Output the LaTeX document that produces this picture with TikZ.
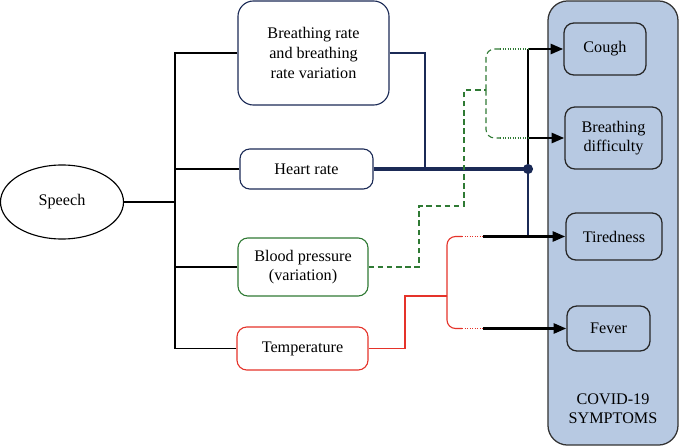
\documentclass[tikz,border=0pt]{standalone}
\usepackage{fontspec}
\setmainfont{Liberation Serif}
\usetikzlibrary{arrows.meta,shapes.geometric}
\definecolor{navyline}{HTML}{1B2A56}
\definecolor{greenline}{HTML}{2F7A34}
\definecolor{redline}{HTML}{E5332A}
\definecolor{symfill}{HTML}{B7C9E2}
\begin{document}
\begin{tikzpicture}[x=0.025cm, y=-0.025cm,
        txt/.style={font=\fontsize{11.5}{14}\selectfont, align=center},
        param/.style={txt, draw, rounded corners=7pt, line width=0.8pt, inner sep=0pt},
        symbox/.style={txt, draw=black!85, rounded corners=7pt, line width=0.9pt, inner sep=0pt},
        conn/.style={line width=0.8pt},
        sarrow/.style={line width=2pt, -{Triangle[length=9pt,width=7pt]}},
        gdash/.style={conn, greenline, dash pattern=on 4pt off 2.5pt},
        gdot/.style={conn, greenline, densely dotted},
        rsolid/.style={conn, redline},
        rdot/.style={conn, redline, densely dotted}
    ]
    \useasboundingbox (0,0) rectangle (680,447);

    % Ingresso
    \node[txt, ellipse, draw, line width=0.8pt, minimum width=3.075cm, minimum height=1.85cm] (speech) at (62,202) {Speech};

    % Parametri vitali
    \node[param, draw=navyline, rounded corners=11pt, minimum width=3.775cm, minimum height=2.6cm] (breath) at (313.5,53) {Breathing rate\\and breathing\\rate variation};
    \node[param, draw=navyline, minimum width=3.325cm, minimum height=1cm] (heart) at (306.5,169) {Heart rate};
    \node[param, draw=greenline, minimum width=3.25cm, minimum height=1.45cm] (blood) at (303,267) {Blood pressure\\(variation)};
    \node[param, draw=redline, minimum width=3.275cm, minimum height=1.075cm] (temp) at (302.5,348.5) {Temperature};

    % Riquadro sintomi
    \node[txt, draw=black!80, fill=symfill, rounded corners=14pt, line width=0.9pt, minimum width=3.25cm, minimum height=11.1cm] (covid) at (613,223) {};
    \node[txt, font=\fontsize{11.5}{13.5}\selectfont] (covidlbl) at (613,409) {COVID-19\\SYMPTOMS};
    \node[symbox, minimum width=2.05cm, minimum height=1.3cm] (cough) at (605,49) {Cough};
    \node[symbox, minimum width=2.425cm, minimum height=1.55cm] (diff) at (613.5,138) {Breathing\\difficulty};
    \node[symbox, minimum width=2.4cm, minimum height=1.175cm] (tired) at (614,236.5) {Tiredness};
    \node[symbox, minimum width=2.075cm, minimum height=1.125cm] (fever) at (608.5,328.5) {Fever};

    % Albero da Speech
    \coordinate (trunk) at (175,202);
    \draw[conn] (speech.east) -- (trunk);
    \draw[conn] (breath.west) -| (trunk |- temp.west) -- (temp.west);
    \draw[conn] (heart.west) -- (heart.west -| trunk);
    \draw[conn] (blood.west) -- (blood.west -| trunk);

    % Heart rate e breathing rate
    \coordinate (hub) at (528,169);
    \coordinate (bjoin) at (425,169);
    \draw[conn, navyline] (breath.east) -| (bjoin);
    \draw[conn] (hub) -- (hub |- cough.west);
    \draw[conn, navyline] (hub) -- (hub |- tired.west);
    \draw[navyline, line width=2.4pt] (heart.east) -- (hub);
    \fill[navyline] (hub) circle[radius=3.6pt];
    \draw[sarrow] (hub |- cough.west) -- (cough.west);
    \draw[sarrow] (hub |- diff.west) -- (diff.west);

    % Blood pressure
    \coordinate (g1) at (419,206);
    \coordinate (g2) at (464,90);
    \coordinate (gsplit) at (486,90);
    \coordinate (gc) at (500,49);
    \coordinate (gd) at (500,138);
    \draw[gdash] (blood.east) -| (g1) -| (g2) -- (gsplit);
    \draw[gdash, rounded corners=6pt] (gsplit) |- (gc);
    \draw[gdash, rounded corners=6pt] (gsplit) |- (gd);
    \draw[gdot] (gc) -- (hub |- cough.west);
    \draw[gdot] (gd) -- (hub |- diff.west);

    % Temperature
    \coordinate (rstep) at (405,296);
    \coordinate (rsplit) at (447,296);
    \coordinate (rt0) at (462,236.5);
    \coordinate (rf0) at (462,328.5);
    \coordinate (rt) at (483,236.5);
    \coordinate (rf) at (483,328.5);
    \draw[rsolid] (temp.east) -| (rstep) -- (rsplit);
    \draw[rsolid, rounded corners=6pt] (rsplit) |- (rt0);
    \draw[rsolid, rounded corners=6pt] (rsplit) |- (rf0);
    \draw[rdot] (rt0) -- (rt);
    \draw[rdot] (rf0) -- (rf);
    \draw[sarrow] (rt) -- (tired.west);
    \draw[sarrow] (rf) -- (fever.west);
\end{tikzpicture}
\end{document}
